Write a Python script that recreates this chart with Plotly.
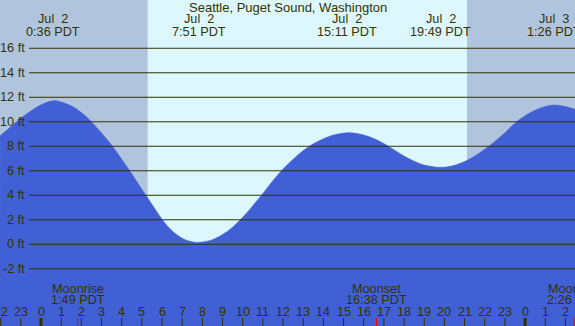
import plotly.graph_objects as go

TITLE = "Seattle, Puget Sound, Washington"

# Tide height readings (hours since Jul 2 00:00 PDT, feet)
TIDE_HOURS = [-2.03, -1.5, -1.0, -0.5, 0.0, 0.6, 1.0, 1.5, 2.0, 2.5, 3.0, 3.5, 4.0, 4.5,
              5.0, 5.5, 6.0, 6.5, 7.0, 7.5, 7.85, 8.5, 9.0, 9.5, 10.0, 10.5, 11.0, 11.5,
              12.0, 12.5, 13.0, 13.5, 14.0, 14.5, 15.18, 15.5, 16.0, 16.5, 17.0, 17.5,
              18.0, 18.5, 19.0, 19.82, 20.5, 21.0, 21.5, 22.0, 22.5, 23.0, 23.5, 24.0,
              24.5, 25.0, 25.43, 26.0, 26.48]
TIDE_FT = [8.85, 9.6, 10.3, 10.88, 11.38, 11.72, 11.62, 11.3, 10.75, 10.0, 9.08, 8.1, 6.95, 5.75,
           4.5, 3.27, 2.05, 1.1, 0.5, 0.2, 0.16, 0.38, 0.8, 1.4, 2.2, 3.15, 4.15, 5.2,
           6.15, 6.95, 7.65, 8.2, 8.62, 8.92, 9.11, 9.08, 8.92, 8.63, 8.22, 7.72,
           7.2, 6.78, 6.47, 6.28, 6.45, 6.75, 7.2, 7.75, 8.4, 9.1, 9.9, 10.5,
           10.95, 11.25, 11.37, 11.25, 11.02]

# Tide extremes (labels at top)
EVENT_HOURS = [0.6, 7.85, 15.183, 19.817, 25.433]
EVENT_DATES = ["Jul  2", "Jul  2", "Jul  2", "Jul  2", "Jul  3"]
EVENT_TIMES = ["0:36 PDT", "7:51 PDT", "15:11 PDT", "19:49 PDT", "1:26 PDT"]

# Moon events (labels at bottom)
MOON_HOURS = [1.817, 16.633, 26.433]
MOON_NAMES = ["Moonrise", "Moonset", "Moonrise"]
MOON_TIMES = ["1:49 PDT", "16:38 PDT", "2:26 PDT"]

# Sun (daylight between sunrise and sunset)
SUNRISE = 5.29
SUNSET = 21.12

# Hour axis
HOURS = list(range(-2, 27))
HOUR_LABELS = ["22", "23", "0", "1", "2", "3", "4", "5", "6", "7", "8", "9", "10", "11",
               "12", "13", "14", "15", "16", "17", "18", "19", "20", "21", "22", "23",
               "0", "1", "2"]
MIDNIGHTS = [0, 24]

# Height axis
FT_TICKS = [-2, 0, 2, 4, 6, 8, 10, 12, 14, 16]
FT_LABELS = ["-2 ft", "0 ft", "2 ft", "4 ft", "6 ft", "8 ft", "10 ft", "12 ft", "14 ft", "16 ft"]

X_RANGE = [-2.033, 26.475]
Y_RANGE = [-6.67, 19.94]

W, H = 575, 326
TEXT = "#333300"
NIGHT = "#B0C4DE"
DAY = "#DDF7FE"
WATER = "#4160D5"
FONT = "Liberation Sans, Arial, sans-serif"


def ypaper(py):
    return 1 - py / H


fig = go.Figure()
fig.add_trace(go.Scatter(x=[X_RANGE[0], X_RANGE[1]], y=[Y_RANGE[0], Y_RANGE[0]],
                         mode="lines", line=dict(width=0), hoverinfo="skip", showlegend=False))
fig.add_trace(go.Scatter(x=TIDE_HOURS, y=TIDE_FT, mode="lines", fill="tonexty",
                         fillcolor=WATER, line=dict(color=WATER, width=0.5, shape="spline"),
                         showlegend=False))

shapes = []
# night shading
shapes.append(dict(type="rect", xref="x", yref="paper", x0=X_RANGE[0], x1=SUNRISE, y0=0, y1=1,
                   fillcolor=NIGHT, line=dict(width=0), layer="below"))
shapes.append(dict(type="rect", xref="x", yref="paper", x0=SUNSET, x1=X_RANGE[1], y0=0, y1=1,
                   fillcolor=NIGHT, line=dict(width=0), layer="below"))
# height grid lines
for v in FT_TICKS:
    shapes.append(dict(type="line", xref="paper", yref="y", x0=29 / W, x1=1, y0=v, y1=v,
                       line=dict(color=TEXT, width=1), layer="above"))
# hour ticks
for h in HOURS:
    shapes.append(dict(type="line", xref="x", yref="paper", x0=h, x1=h, y0=0, y1=8 / H,
                       line=dict(color=TEXT, width=3 if h in MIDNIGHTS else 1), layer="above"))
for h in MOON_HOURS:
    shapes.append(dict(type="line", xref="x", yref="paper", x0=h, x1=h, y0=0, y1=8 / H,
                       line=dict(color="red", width=1), layer="above"))

ann = []
f = dict(family=FONT, size=12.7, color=TEXT)
ft = dict(family=FONT, size=13, color=TEXT)
ann.append(dict(text=TITLE, xref="paper", yref="paper", x=287.5 / W, y=ypaper(7.5),
                showarrow=False, font=ft, xanchor="center", yanchor="middle"))
for h, d, t in zip(EVENT_HOURS, EVENT_DATES, EVENT_TIMES):
    ann.append(dict(text=d.replace(" ", "\u00a0"), xref="x", yref="paper", x=h, y=ypaper(19.5),
                    showarrow=False, font=f, xanchor="center", yanchor="middle"))
    ann.append(dict(text=t, xref="x", yref="paper", x=h, y=ypaper(31.5),
                    showarrow=False, font=f, xanchor="center", yanchor="middle"))
for h, n, t in zip(MOON_HOURS, MOON_NAMES, MOON_TIMES):
    ann.append(dict(text=n, xref="x", yref="paper", x=h, y=ypaper(288.5),
                    showarrow=False, font=f, xanchor="center", yanchor="middle"))
    ann.append(dict(text=t, xref="x", yref="paper", x=h, y=ypaper(299.5),
                    showarrow=False, font=f, xanchor="center", yanchor="middle"))
for h, lab in zip(HOURS, HOUR_LABELS):
    ann.append(dict(text=lab, xref="x", yref="paper", x=h, y=ypaper(312),
                    showarrow=False, font=f, xanchor="center", yanchor="middle"))
for v, lab in zip(FT_TICKS, FT_LABELS):
    ann.append(dict(text=lab, xref="paper", yref="y", x=27 / W, y=v,
                    showarrow=False, font=f, xanchor="right", yanchor="middle"))

fig.update_layout(
    width=W, height=H, autosize=False,
    margin=dict(l=0, r=0, t=0, b=0, pad=0),
    paper_bgcolor=DAY, plot_bgcolor=DAY,
    xaxis=dict(range=X_RANGE, visible=False, fixedrange=True),
    yaxis=dict(range=Y_RANGE, visible=False, fixedrange=True),
    shapes=shapes, annotations=ann, showlegend=False,
)

fig.write_html("out.html", config={"displayModeBar": False},
               post_script="document.body.style.margin='0';document.body.style.padding='0';")
